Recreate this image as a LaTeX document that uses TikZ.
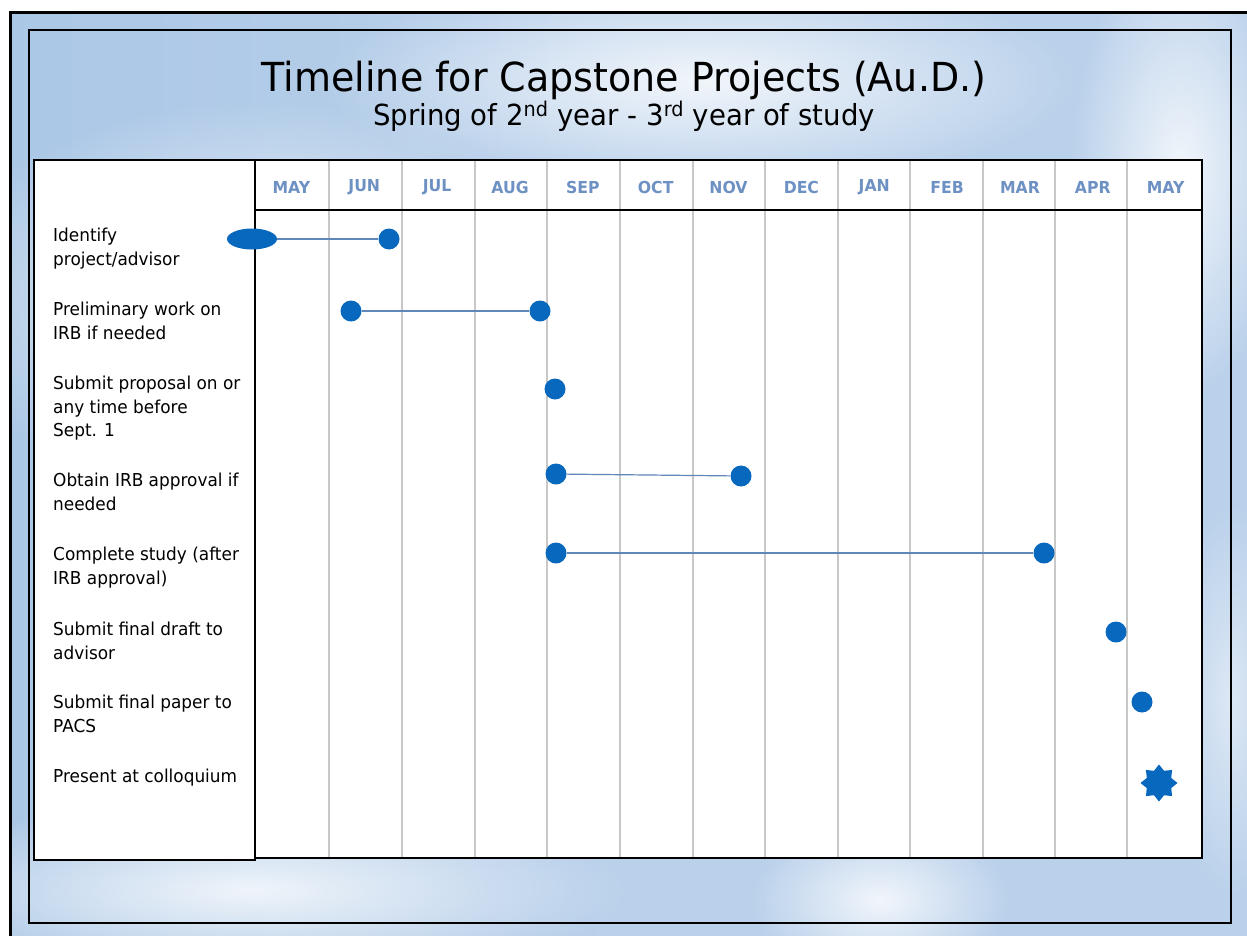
\documentclass[tikz,border=0pt]{standalone}
\usepackage{fontspec}
\setmainfont[FakeStretch=0.95]{DejaVu Sans}
\usetikzlibrary{shapes.geometric,fadings}
\definecolor{bgblue}{RGB}{186,209,235}
\definecolor{bgdeep}{RGB}{165,196,229}
\definecolor{monthc}{RGB}{110,145,196}
\definecolor{markc}{RGB}{8,104,190}
\definecolor{linkc}{RGB}{95,135,185}
\definecolor{gridc}{RGB}{200,200,200}
\tikzfading[name=softfade,inner color=transparent!0,outer color=transparent!100]
\tikzset{
  dot/.style={circle,fill=markc,minimum size=21pt,inner sep=0pt},
  oval/.style={ellipse,fill=markc,minimum width=50pt,minimum height=21pt,inner sep=0pt},
  burst/.style={star,star points=8,star point ratio=1.4,fill=markc,minimum size=37pt,inner sep=0pt},
  link/.style={draw=linkc,line width=1.2pt},
  month/.style={font=\fontsize{16.5}{19}\selectfont\bfseries,text=monthc,anchor=center},
  task/.style={font=\fontsize{17.8}{23.3}\selectfont,align=left,anchor=north west,inner sep=0pt},
  gridline/.style={draw=gridc,line width=1.5pt},
  cloud/.style={fill=white,path fading=softfade,opacity=0.8}
}
\begin{document}
\begin{tikzpicture}[x=1pt,y=-1pt]
\useasboundingbox (0,0) rectangle (1247,935);
% background
\begin{scope}
\clip (10,12) rectangle (1247,935);
\fill[bgblue] (0,0) rectangle (1260,950);
\shade[left color=bgdeep,right color=bgblue,opacity=0.7] (0,0) rectangle (620,950);
\fill[cloud] (260,300) ellipse (330 and 200);
\fill[cloud] (700,80) ellipse (380 and 110);
\fill[cloud] (250,890) ellipse (380 and 90);
\fill[cloud] (880,900) ellipse (130 and 80);
\fill[cloud] (1180,170) ellipse (110 and 230);
\fill[cloud,opacity=0.5] (500,560) ellipse (380 and 300);
\fill[cloud,opacity=0.5] (1230,700) ellipse (60 and 200);
\end{scope}
% frames
\draw[line width=3pt] (10,1000) -- (10,12) -- (1300,12);
\draw[line width=1.3pt] (29,30) rectangle (1231,923);
% title
\node[font=\fontsize{40}{44}\selectfont] (title) at (624,80) {Timeline for Capstone Projects (Au.D.)};
\node[font=\fontsize{29}{32}\selectfont] (subtitle) at (624,116) {Spring of 2\textsuperscript{nd} year - 3\textsuperscript{rd} year of study};
% table
\fill[white] (34,160) rectangle (1202,859);
\foreach \x in {329,402,475,547,620,693,765,838,910,983,1055,1127}
  \draw[gridline] (\x,161) -- (\x,857);
\draw[line width=2pt] (255,160) rectangle (1202,858);
\draw[line width=2.5pt] (34,160) rectangle (255,860);
\draw[line width=2.5pt] (255,210) -- (1202,210);
% months
\foreach \m [count=\i] in {MAY,JUN,JUL,AUG,SEP,OCT,NOV,DEC,JAN,FEB,MAR,APR,MAY}
  \node[month] (m\i) at ({255+72.85*(\i-0.5)},187) {\m};
% tasks
\node[task] (t1) at (53,228) {Identify\\project/advisor};
\node[task] (t2) at (53,302) {Preliminary work on\\IRB if needed};
\node[task] (t3) at (53,376) {Submit proposal on or\\any time before\\Sept. 1};
\node[task] (t4) at (53,473) {Obtain IRB approval if\\needed};
\node[task] (t5) at (53,547) {Complete study (after\\IRB approval)};
\node[task] (t6) at (53,622) {Submit final draft to\\advisor};
\node[task] (t7) at (53,695) {Submit final paper to\\PACS};
\node[task] (t8) at (53,769) {Present at colloquium};
% markers
\node[oval] (a1) at (252,239) {};
\node[dot] (b1) at (389,239) {};
\draw[link] (a1) -- (b1);
\node[dot] (a2) at (351,311) {};
\node[dot] (b2) at (540,311) {};
\draw[link] (a2) -- (b2);
\node[dot] (a3) at (555,389) {};
\node[dot] (a4) at (556,474) {};
\node[dot] (b4) at (741,476) {};
\draw[link] (a4) -- (b4);
\node[dot] (a5) at (556,553) {};
\node[dot] (b5) at (1044,553) {};
\draw[link] (a5) -- (b5);
\node[dot] (a6) at (1116,632) {};
\node[dot] (a7) at (1142,702) {};
\node[burst] (a8) at (1159,783) {};
\end{tikzpicture}
\end{document}
